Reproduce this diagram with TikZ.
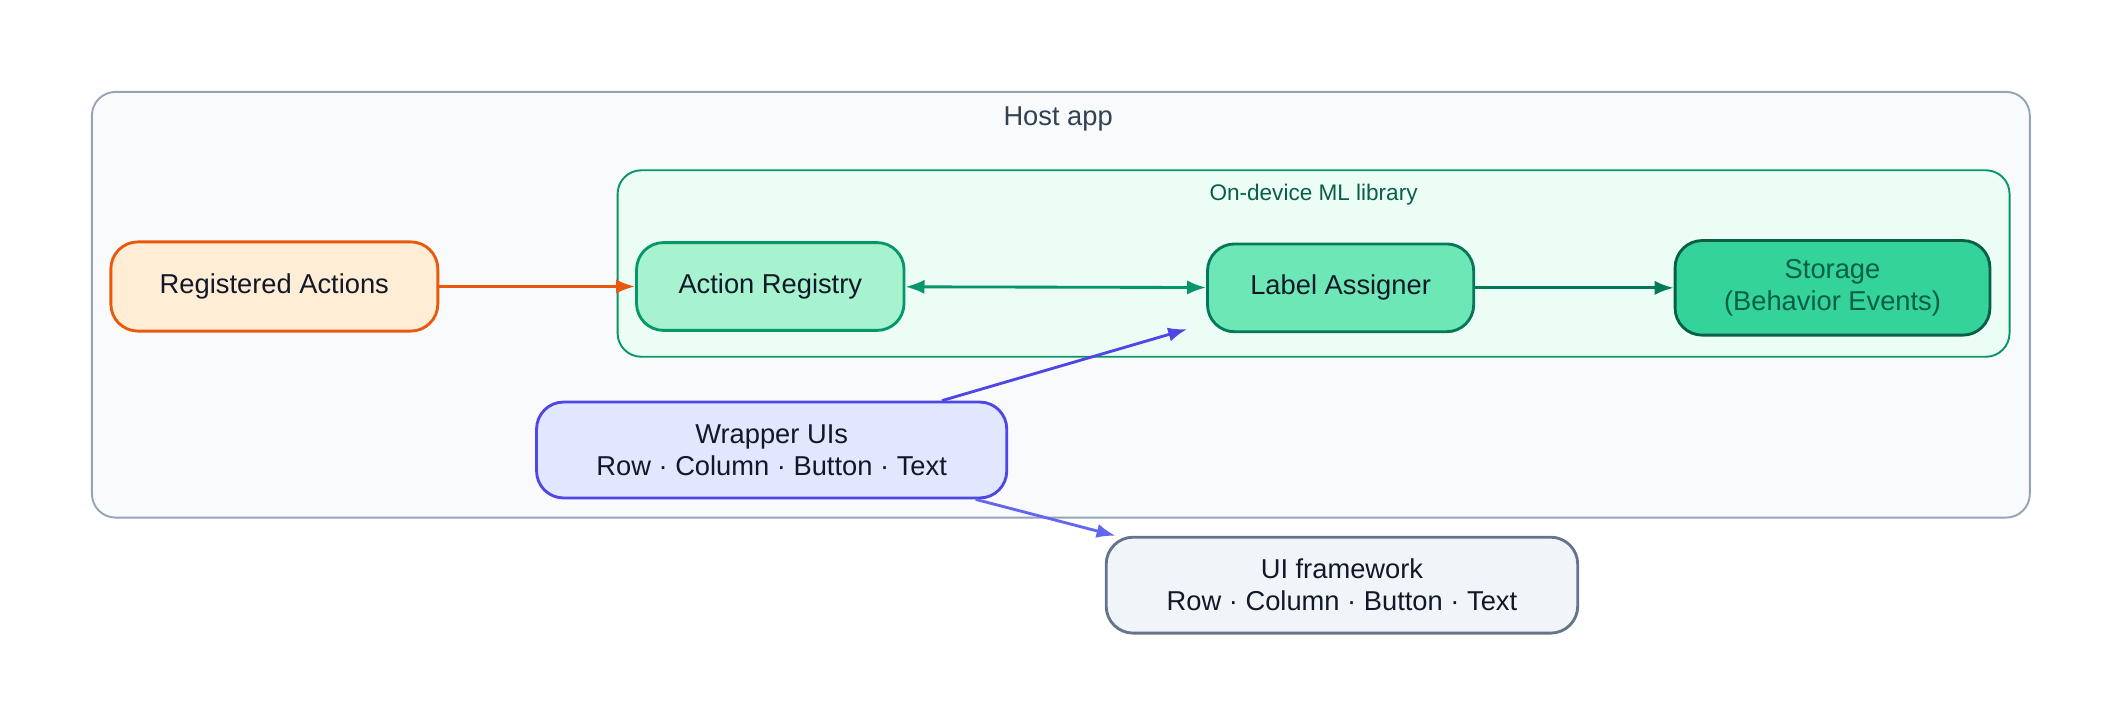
\documentclass[tikz,border=0pt]{standalone}
\usepackage{fontspec}
\setmainfont{Liberation Sans}
\usetikzlibrary{arrows.meta,calc}
\definecolor{hostfill}{HTML}{F8FAFC}
\definecolor{hostline}{HTML}{94A3B8}
\definecolor{hosttext}{HTML}{334155}
\definecolor{mlfill}{HTML}{ECFDF5}
\definecolor{mlline}{HTML}{059669}
\definecolor{mltext}{HTML}{065F46}
\definecolor{regfill}{HTML}{FFEDD5}
\definecolor{regline}{HTML}{EA580C}
\definecolor{arfill}{HTML}{A7F3D0}
\definecolor{lafill}{HTML}{6EE7B7}
\definecolor{laline}{HTML}{047857}
\definecolor{stfill}{HTML}{34D399}
\definecolor{wrfill}{HTML}{E0E7FF}
\definecolor{wrline}{HTML}{4F46E5}
\definecolor{wrline2}{HTML}{6366F1}
\definecolor{uifill}{HTML}{F1F5F9}
\definecolor{uiline}{HTML}{64748B}
\definecolor{txt}{HTML}{111827}
\tikzset{
  box/.style={draw, line width=1.2pt, rounded corners=0.4cm, align=center,
    font=\fontsize{11.5}{13.5}\selectfont, text=txt, inner sep=2pt},
  link/.style={line width=1.2pt, -{Latex[length=8pt,width=6pt]}}
}
\begin{document}
\begin{tikzpicture}[x=0.02cm,y=-0.02cm]
\useasboundingbox (0,0) rectangle (1568,523);
% clusters
\draw [hostline, fill=hostfill, rounded corners=0.35cm, line width=0.8pt] (68,68) rectangle (1502,383);
\node (hostlbl) [text=hosttext, font=\fontsize{11.5}{13.5}\selectfont] at (783,88) {Host app};
\draw [mlline, fill=mlfill, rounded corners=0.35cm, line width=0.8pt] (457,126) rectangle (1487,264);
\node (mllbl) [text=mltext, font=\fontsize{9.5}{11}\selectfont] at (972,144) {On-device ML library};
% nodes
\node (reg) [box, draw=regline, fill=regfill, minimum width=4.84cm, minimum height=1.32cm] at (203,212) {Registered Actions};
\node (ar) [box, draw=mlline, fill=arfill, minimum width=3.96cm, minimum height=1.3cm] at (570,212) {Action Registry};
\node (la) [box, draw=laline, fill=lafill, minimum width=3.94cm, minimum height=1.3cm] at (992,213) {Label Assigner};
\node (st) [box, draw=mltext, fill=stfill, text=mltext, minimum width=4.66cm, minimum height=1.4cm] at (1356,213) {Storage\\(Behavior Events)};
\node (wr) [box, draw=wrline, fill=wrfill, minimum width=6.96cm, minimum height=1.42cm] at (571,333) {Wrapper UIs\\Row · Column · Button · Text};
\node (ui) [box, draw=uiline, fill=uifill, minimum width=6.98cm, minimum height=1.42cm] at (993,433) {UI framework\\Row · Column · Button · Text};
% connectors
\draw [link, regline] (reg) -- (ar);
\draw [link, mlline, {Latex[length=8pt,width=6pt]}-{Latex[length=8pt,width=6pt]}] (ar) -- (la);
\draw [link, laline] (la) -- (st);
\draw [link, wrline] ($(wr.north)+(126,0)$) -- ($(la.south west)+(-14,-3)$);
\draw [link, wrline2] ($(wr.south)+(151,0)$) -- ($(ui.north west)+(8,0)$);
\end{tikzpicture}
\end{document}
